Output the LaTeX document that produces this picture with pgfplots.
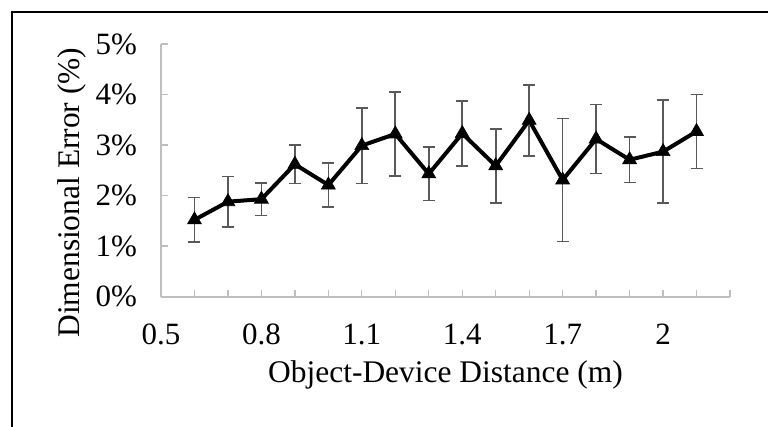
\documentclass[border=0pt]{standalone}
\usepackage{fontspec}
\setmainfont{Liberation Serif}
\usepackage{pgfplots}
\pgfplotsset{compat=1.18}
\definecolor{axisgray}{HTML}{BFBFBF}
\definecolor{errgray}{HTML}{595959}
\begin{document}
\begin{tikzpicture}
\useasboundingbox (0,0) rectangle (576pt,319.5pt);
\draw[line width=1.25pt] (9pt,-20pt) -- (9pt,310.5pt) -- (600pt,310.5pt);
\begin{axis}[
  at={(120.75pt,96.98pt)}, anchor=south west,
  scale only axis, width=426.75pt, height=189.5pt,
  xmin=0.5, xmax=2.2, ymin=0, ymax=5,
  axis lines*=left,
  axis line style={draw=axisgray, line width=1.25pt},
  tick align=inside,
  major tick length=5pt,
  tick style={draw=axisgray, line width=1pt},
  xtick={0.5,0.6,0.7,0.8,0.9,1.0,1.1,1.2,1.3,1.4,1.5,1.6,1.7,1.8,1.9,2.0,2.1,2.2},
  xticklabels={0.5,,,0.8,,,1.1,,,1.4,,,1.7,,,2,,},
  ytick={0,1,2,3,4,5},
  yticklabel={\pgfmathprintnumber{\tick}\%},
  /pgf/number format/assume math mode=true,
  ticklabel style={font=\fontsize{23.25}{28}\selectfont},
  yticklabel style={anchor=east, inner sep=0pt, xshift=-17.8pt},
  xticklabel style={anchor=north, inner sep=0pt, yshift=-20pt},
  xlabel={Object-Device Distance (m)},
  ylabel={Dimensional Error (\%)},
  label style={font=\fontsize{23.6}{28}\selectfont},
  xlabel style={at={(axis description cs:0.5,0)}, anchor=base, inner sep=0pt, yshift=-64.5pt},
  ylabel style={at={(axis description cs:0,0.412)}, anchor=base, inner sep=0pt, yshift=61.5pt},
  clip=false,
]
\addplot[black, line width=3pt, mark=triangle*, mark size=6pt,
  mark options={solid, line width=0.5pt},
  error bars/.cd, y dir=both, y explicit,
  error bar style={errgray, line width=1.2pt},
  error mark options={errgray, line width=1.2pt, mark size=4.5pt, rotate=90}]
  table[x=x, y=y, y error=e] {
x y e
0.6 1.52 0.44
0.7 1.88 0.50
0.8 1.93 0.32
0.9 2.62 0.38
1.0 2.21 0.44
1.1 2.99 0.75
1.2 3.22 0.83
1.3 2.43 0.53
1.4 3.23 0.64
1.5 2.59 0.73
1.6 3.49 0.70
1.7 2.31 1.22
1.8 3.12 0.68
1.9 2.71 0.45
2.0 2.87 1.02
2.1 3.27 0.73
};
\end{axis}
\end{tikzpicture}
\end{document}
